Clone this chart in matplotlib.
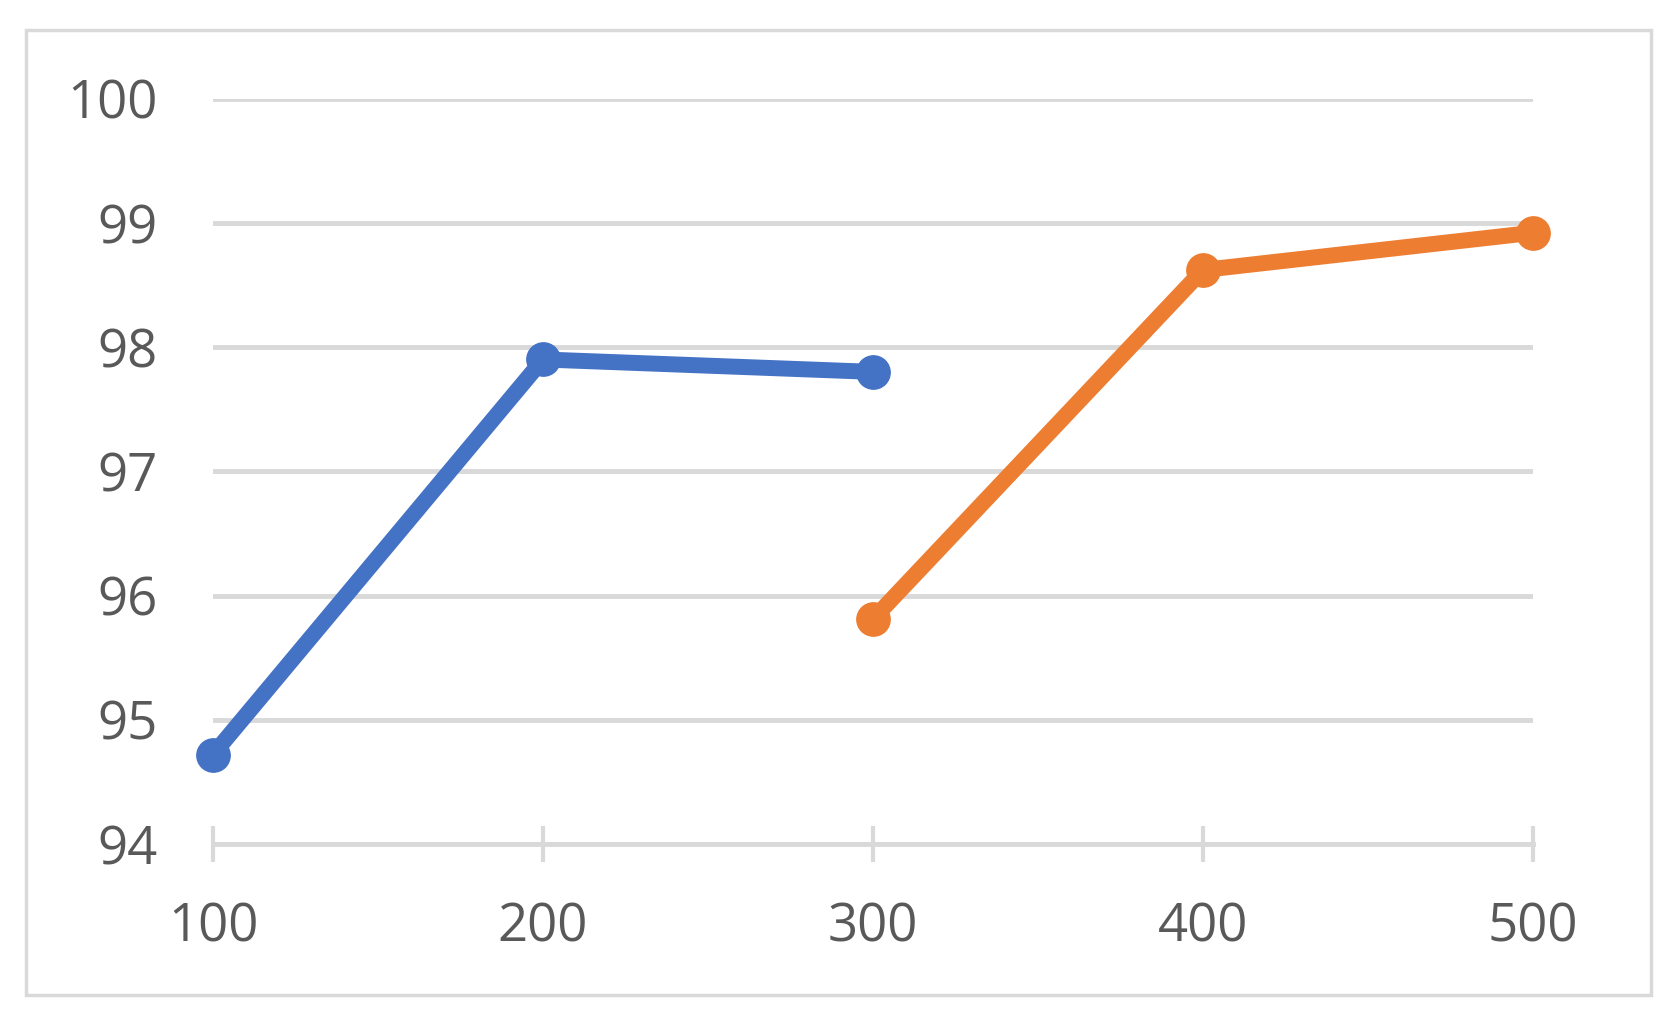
import matplotlib
matplotlib.use("Agg")
import matplotlib.pyplot as plt
from matplotlib.patches import Rectangle

# Datos
x_ticks = [100, 200, 300, 400, 500]
y_ticks = [94, 95, 96, 97, 98, 99, 100]

blue_x = [100, 200, 300]
blue_y = [94.72, 97.90, 97.80]

orange_x = [300, 400, 500]
orange_y = [95.81, 98.62, 98.92]

BLUE = "#4472C4"
ORANGE = "#ED7D31"
GRID = "#D9D9D9"
TEXT = "#595959"

plt.rcParams["font.family"] = ["Open Sans", "DejaVu Sans"]

fig = plt.figure(figsize=(16.8, 10.31), dpi=100)
ax = fig.add_axes([0.1268, 0.1814, 0.9125 - 0.1268, 0.9044 - 0.1814])

# marco exterior del gráfico
fig.patches.append(Rectangle((0.0153, 0.0349), 0.9827 - 0.0153, 0.971 - 0.0349,
                             transform=fig.transFigure, fill=False,
                             edgecolor=GRID, lw=2.5))

ax.plot(blue_x, blue_y, color=BLUE, lw=11.5, marker="o", ms=24,
        clip_on=False, zorder=3, solid_capstyle="round")
ax.plot(orange_x, orange_y, color=ORANGE, lw=11.5, marker="o", ms=24,
        clip_on=False, zorder=3, solid_capstyle="round")

ax.set_xlim(100, 500)
ax.set_ylim(94, 100)
ax.set_xticks(x_ticks)
ax.set_yticks(y_ticks)

for s in ["top", "right", "left"]:
    ax.spines[s].set_visible(False)
ax.spines["bottom"].set_color(GRID)
ax.spines["bottom"].set_linewidth(3.5)

ax.yaxis.grid(True, color=GRID, lw=3.5)
ax.set_axisbelow(True)

ax.tick_params(axis="y", length=0, pad=40, labelsize=38, labelcolor=TEXT)
ax.tick_params(axis="x", direction="inout", length=26, width=3, color=GRID,
               pad=28, labelsize=38, labelcolor=TEXT)

fig.savefig("out.png", dpi=100)
